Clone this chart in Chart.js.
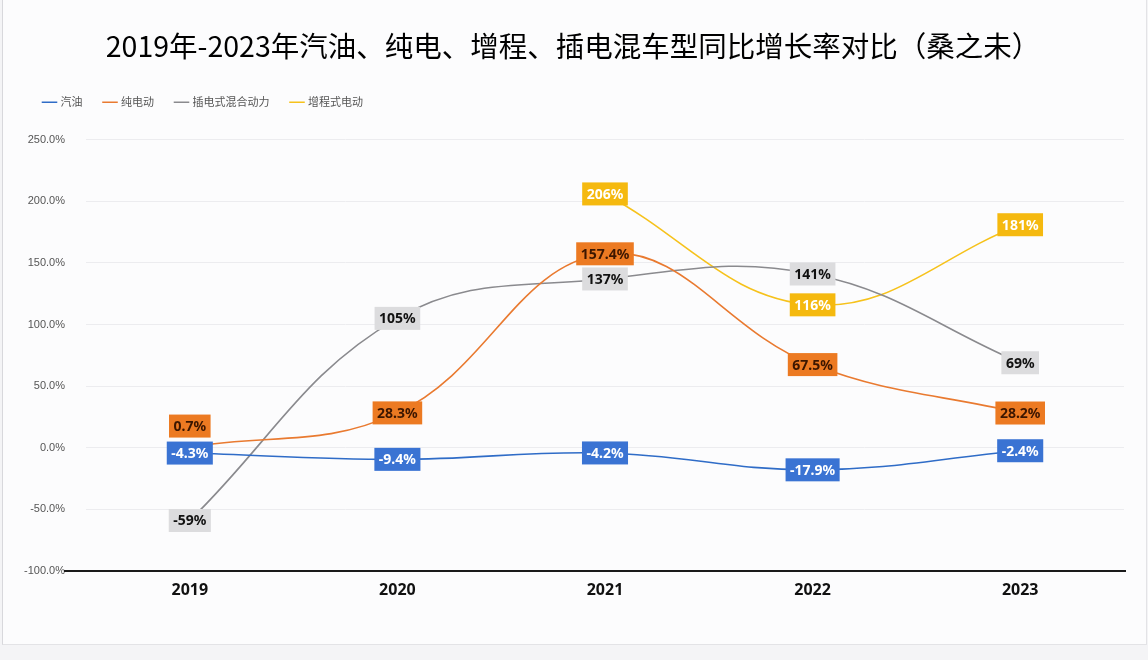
<!DOCTYPE html>
<html>
<head>
<meta charset="utf-8">
<script src="https://cdn.jsdelivr.net/npm/chart.js@4.4.1/dist/chart.umd.min.js"></script>
<style>
  html, body { margin: 0; padding: 0; background: #f4f4f6; }
  .card { position: absolute; left: 2px; top: 0; width: 1143px; height: 644px; background: #fcfcfd; border-right: 1px solid #e3e3e6; border-bottom: 1px solid #e3e3e6; border-left: 1px solid #d8d8dc; }
  canvas { position: absolute; left: 0; top: 0; }
</style>
</head>
<body>
<div class="card"></div>
<canvas id="c" width="1148" height="660"></canvas>
<script>
// 年份
const years = ["2019", "2020", "2021", "2022", "2023"]
// 各动力类型同比增长率（%）
const gasoline = [-4.3, -9.4, -4.2, -17.9, -2.4]
const pureEV = [0.7, 28.3, 157.4, 67.5, 28.2]
const plugInHybrid = [-59, 105, 137, 141, 69]
const rangeExtender = [null, null, 206, 116, 181]
// 标签文字（与原图一致）
const gasolineLabels = ["-4.3%", "-9.4%", "-4.2%", "-17.9%", "-2.4%"]
const pureEVLabels = ["0.7%", "28.3%", "157.4%", "67.5%", "28.2%"]
const plugInLabels = ["-59%", "105%", "137%", "141%", "69%"]
const rangeLabels = [null, null, "206%", "116%", "181%"]

const CJK = "'Noto Sans CJK SC', 'Noto Sans', sans-serif"

// 数据标签：带底色的小方框，重叠时往上挪
const boxLabels = {
  id: "boxLabels",
  afterDatasetsDraw(chart) {
    const ctx = chart.ctx
    const placed = []
    ctx.save()
    ctx.font = "bold 14px 'Noto Sans', 'Open Sans', sans-serif"
    ctx.textAlign = "center"
    ctx.textBaseline = "middle"
    chart.data.datasets.forEach((ds, di) => {
      const meta = chart.getDatasetMeta(di)
      meta.data.forEach((pt, i) => {
        const text = ds.labels[i]
        if (!text) return
        const w = ctx.measureText(text).width + 9
        const h = 23
        const x = pt.x
        const box = { l: x - w / 2, r: x + w / 2, t: pt.y - h / 2, b: pt.y + h / 2 }
        placed.forEach((p) => {
          if (box.l < p.r && box.r > p.l && box.t < p.b && box.b > p.t) {
            const dy = box.b - (p.t - 4)
            box.t -= dy; box.b -= dy
          }
        })
        placed.push(box)
        ctx.fillStyle = ds.labelBg
        ctx.fillRect(box.l, box.t, w, h)
        ctx.fillStyle = ds.labelColor
        ctx.fillText(text, x, (box.t + box.b) / 2 + 1)
      })
    })
    ctx.restore()
  }
}

// 底部黑色基线，向左延伸到刻度文字
const baseLine = {
  id: "baseLine",
  afterDraw(chart) {
    const { ctx, chartArea } = chart
    ctx.save()
    ctx.strokeStyle = "#1a1a1a"
    ctx.lineWidth = 2
    ctx.beginPath()
    ctx.moveTo(chartArea.left - 22, chartArea.bottom)
    ctx.lineTo(chartArea.right + 2, chartArea.bottom)
    ctx.stroke()
    ctx.restore()
  }
}

// 图例下方多留一点空白
const legendGap = {
  id: "legendGap",
  afterInit(chart) {
    const lg = chart.legend
    if (!lg) return
    const fit = lg.fit
    lg.fit = function () {
      fit.call(this)
      this.height += 22
    }
  }
}

const line = (label, data, color, labels, labelBg, labelColor) => ({
  label, data, labels, labelBg, labelColor,
  borderColor: color,
  backgroundColor: color,
  borderWidth: 1.6,
  pointRadius: 0,
  tension: 0.4,
  spanGaps: false
})

new Chart(document.getElementById("c"), {
  type: "line",
  data: {
    labels: years,
    datasets: [
      line("汽油", gasoline, "#2f6cc7", gasolineLabels, "#3a73d3", "#ffffff"),
      line("纯电动", pureEV, "#e97a30", pureEVLabels, "#ec7a22", "#3b1600"),
      line("插电式混合动力", plugInHybrid, "#8a8a8e", plugInLabels, "#dcdcde", "#111111"),
      line("增程式电动", rangeExtender, "#f6c21c", rangeLabels, "#f5b90f", "#ffffff")
    ]
  },
  options: {
    responsive: false,
    animation: false,
    layout: { padding: { left: 22, right: 24, top: 0, bottom: 0 } },
    plugins: {
      title: {
        display: true,
        text: "2019年-2023年汽油、纯电、增程、插电混车型同比增长率对比（桑之未）",
        color: "#000",
        font: { size: 28.5, family: CJK, weight: "normal" },
        padding: { top: 29.5, bottom: 11 }
      },
      legend: {
        align: "start",
        labels: {
          usePointStyle: true,
          pointStyle: "line",
          boxWidth: 26,
          color: "#555",
          padding: 22,
          font: { size: 11, family: CJK }
        }
      },
      tooltip: { enabled: false }
    },
    scales: {
      x: {
        offset: true,
        grid: { display: false, drawTicks: false },
        border: { display: false },
        ticks: { color: "#111", padding: 10, font: { size: 16, weight: "bold", family: "'Noto Sans', sans-serif" } },
        afterFit: (s) => { s.height = 89 }
      },
      y: {
        min: -100,
        max: 250,
        ticks: {
          stepSize: 50,
          padding: 21,
          color: "#555",
          font: { size: 11, family: "'Liberation Sans', sans-serif" },
          callback: (v) => v.toFixed(1) + "%"
        },
        grid: { color: "#ececef", drawTicks: false },
        border: { display: false },
        afterFit: (s) => { s.width = 64 }
      }
    }
  },
  plugins: [boxLabels, baseLine, legendGap]
})
</script>
</body>
</html>
